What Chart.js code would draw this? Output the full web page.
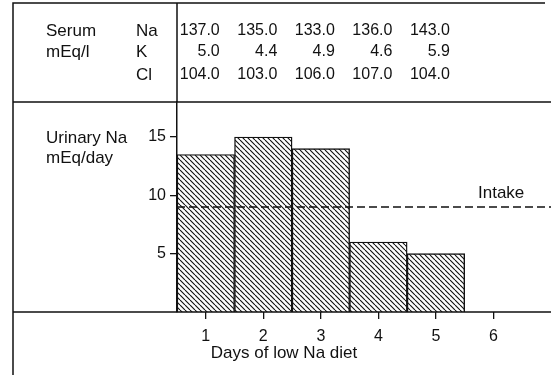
<!DOCTYPE html>
<html>
<head>
<meta charset="utf-8">
<script src="https://cdn.jsdelivr.net/npm/chart.js@4"></script>
<style>
  html, body { margin: 0; padding: 0; background: #fff; }
  #wrap { width: 551px; height: 375px; position: relative; }
</style>
</head>
<body>
<div id="wrap"><canvas id="c" width="551" height="375"></canvas></div>
<script>
  const DAYS = [1, 2, 3, 4, 5];
  const URINARY_NA = [13.5, 15, 14, 6, 5];
  const INTAKE = 9;
  const X_TICKS = [1, 2, 3, 4, 5, 6];
  const Y_TICKS = [5, 10, 15];

  const SERUM_LABELS = ['Na', 'K', 'Cl'];
  const SERUM_NA = ['137.0', '135.0', '133.0', '136.0', '143.0'];
  const SERUM_K = ['5.0', '4.4', '4.9', '4.6', '5.9'];
  const SERUM_CL = ['104.0', '103.0', '106.0', '107.0', '104.0'];

  const FONT = "'Liberation Sans', Arial, sans-serif";
  const INK = '#111';

  function hatch() {
    var s = 5;
    var c = document.createElement('canvas');
    c.width = s; c.height = s;
    var g = c.getContext('2d');
    g.fillStyle = '#fff';
    g.fillRect(0, 0, s, s);
    g.strokeStyle = INK;
    g.lineWidth = 1.1;
    g.beginPath();
    [-s, 0, s].forEach(function (k) {
      g.moveTo(k, 0);
      g.lineTo(k + s, s);
    });
    g.stroke();
    return g.createPattern(c, 'repeat');
  }

  var frame = {
    id: 'frame',
    afterDraw: function (chart) {
      var ctx = chart.ctx;
      var area = chart.chartArea;
      var xs = chart.scales.x;
      ctx.save();
      ctx.strokeStyle = INK;
      ctx.lineWidth = 1.5;
      ctx.beginPath();
      // left border, top border
      ctx.moveTo(13, 375); ctx.lineTo(13, 3);
      ctx.lineTo(545, 3);
      // table divider continuing the y axis
      ctx.moveTo(area.left, 3); ctx.lineTo(area.left, area.top);
      // separator and baseline across the whole frame
      ctx.moveTo(13, area.top); ctx.lineTo(551, area.top);
      ctx.moveTo(13, area.bottom); ctx.lineTo(551, area.bottom);
      ctx.stroke();

      ctx.fillStyle = INK;
      ctx.textBaseline = 'middle';
      var rowsY = [31, 52, 75];
      var rows = [SERUM_NA, SERUM_K, SERUM_CL];

      ctx.font = '17px ' + FONT;
      ctx.textAlign = 'left';
      ctx.fillText('Serum', 46, rowsY[0]);
      ctx.fillText('mEq/l', 46, rowsY[1]);
      SERUM_LABELS.forEach(function (lab, i) {
        ctx.fillText(lab, 136, rowsY[i]);
      });

      ctx.font = '16px ' + FONT;
      ctx.textAlign = 'right';
      rows.forEach(function (row, i) {
        row.forEach(function (v, j) {
          ctx.fillText(v, xs.getPixelForValue(DAYS[j]) + 14, rowsY[i]);
        });
      });

      ctx.font = '17px ' + FONT;
      ctx.textAlign = 'left';
      ctx.fillText('Urinary Na', 46, 138);
      ctx.fillText('mEq/day', 46, 158);
      ctx.fillText('Intake', 478, 193);

      ctx.textAlign = 'center';
      ctx.fillText('Days of low Na diet', 284, 353);
      ctx.restore();
    }
  };

  new Chart(document.getElementById('c'), {
    type: 'bar',
    data: {
      datasets: [
        {
          type: 'line',
          data: [{ x: 0.5, y: INTAKE }, { x: 7, y: INTAKE }],
          borderColor: INK,
          borderWidth: 1.3,
          borderDash: [8, 4],
          pointRadius: 0,
          fill: false,
          order: 0
        },
        {
          data: DAYS.map(function (d, i) { return { x: d, y: URINARY_NA[i] }; }),
          backgroundColor: hatch(),
          borderColor: INK,
          borderWidth: 1.4,
          barPercentage: 1,
          categoryPercentage: 1,
          order: 1
        }
      ]
    },
    options: {
      responsive: false,
      animation: false,
      layout: { padding: { top: 102, left: 0, right: 0, bottom: 0 } },
      plugins: { legend: { display: false }, tooltip: { enabled: false } },
      scales: {
        x: {
          type: 'linear',
          min: 0.5,
          max: 7,
          offset: false,
          afterBuildTicks: function (s) { s.ticks = X_TICKS.map(function (v) { return { value: v }; }); },
          afterFit: function (s) { s.height = 63; },
          grid: { offset: false, drawOnChartArea: false, drawTicks: true, tickLength: 7, color: INK, lineWidth: 1.3 },
          border: { display: false },
          ticks: { color: INK, font: { size: 16, family: FONT }, padding: 8, maxRotation: 0 }
        },
        y: {
          min: 0,
          max: 18,
          afterBuildTicks: function (s) { s.ticks = Y_TICKS.map(function (v) { return { value: v }; }); },
          afterFit: function (s) { s.width = 177; },
          grid: { drawOnChartArea: false, drawTicks: true, tickLength: 7, color: INK, lineWidth: 1.3 },
          border: { display: true, color: INK, width: 1.5 },
          ticks: { color: INK, font: { size: 16, family: FONT }, padding: 4 }
        }
      }
    },
    plugins: [frame]
  });
</script>
</body>
</html>
